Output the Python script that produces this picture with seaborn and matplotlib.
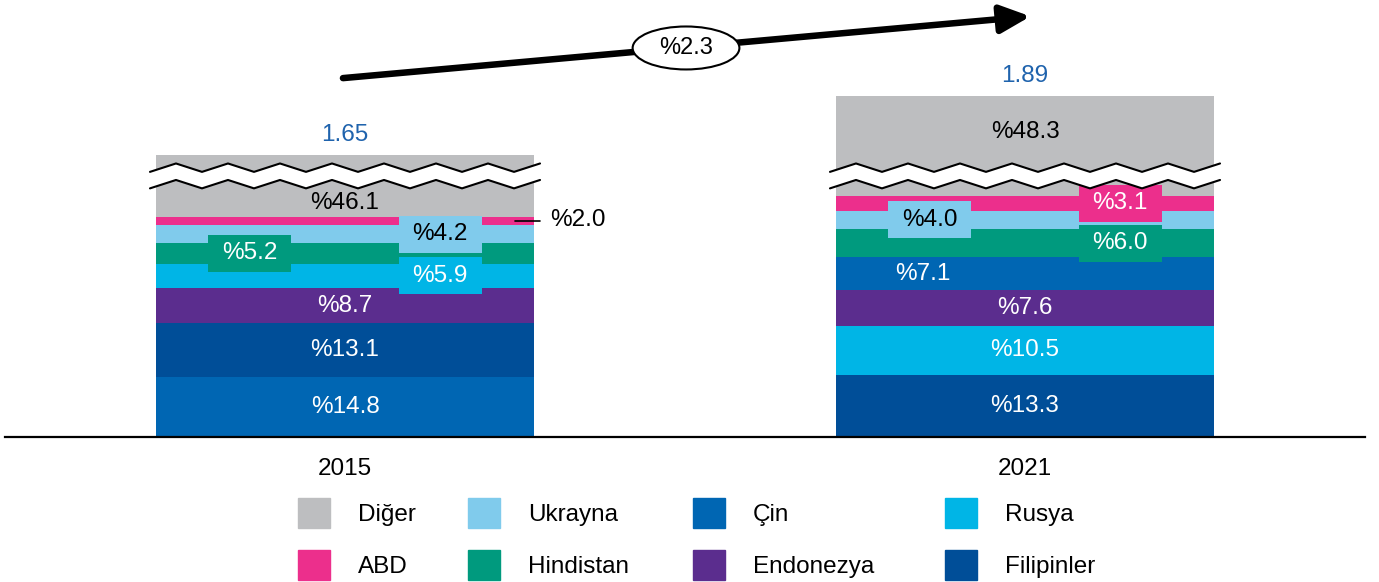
import numpy as np
import pandas as pd
import seaborn as sns
import matplotlib.pyplot as plt
from matplotlib.patches import Patch, Rectangle, Ellipse, Polygon

# values
years = ["2015", "2021"]
totals = [1.65, 1.89]
countries = ["Diğer", "ABD", "Ukrayna", "Hindistan", "Çin", "Endonezya", "Rusya", "Filipinler"]
shares_2015 = [46.1, 2.0, 4.2, 5.2, 14.8, 8.7, 5.9, 13.1]
shares_2021 = [48.3, 3.1, 4.0, 6.0, 7.1, 7.6, 10.5, 13.3]
growth_label = "%2.3"

colors = {
    "Diğer": "#bdbec0",
    "ABD": "#ec2f8c",
    "Ukrayna": "#80cbec",
    "Hindistan": "#009a7e",
    "Çin": "#0066b3",
    "Endonezya": "#5b2d8e",
    "Rusya": "#00b5e6",
    "Filipinler": "#004e98",
}

# where each share label goes: c = centre, l / r = boxed left / right,
# lt = left without a box, out = outside with a leader line
label_pos_2015 = ["c", "out", "r", "l", "c", "c", "r", "c"]
label_pos_2021 = ["c", "r", "l", "r", "lt", "c", "c", "c"]

CUT = 0.508       # amount of "Diğer" removed by the axis break
BREAK_Y = 1.057   # where the break sits on the (cut) y axis
BAR_W = 0.556
FS = 17.5

# build the stacked table, biggest share at the bottom, "Diğer" always on top
parts = []
for year, total, shares, pos in zip(years, totals, [shares_2015, shares_2021], [label_pos_2015, label_pos_2021]):
    d = pd.DataFrame({"country": countries, "share": shares, "pos": pos})
    d["year"] = year
    d["value"] = total * d["share"] / 100
    d["other"] = d["country"] == "Diğer"
    d = d.sort_values(["other", "share"], ascending=[True, False])
    d["height"] = d["value"] - np.where(d["other"], CUT, 0.0)
    d["bottom"] = d["height"].cumsum() - d["height"]
    parts.append(d)
df = pd.concat(parts, ignore_index=True)

sns.set_style("white")
plt.rcParams["font.family"] = ["Liberation Sans", "DejaVu Sans"]
plt.rcParams["text.color"] = "black"

fig = plt.figure(figsize=(13.79, 5.82), dpi=100)
ax = fig.add_axes([5 / 1379, 1 - 437 / 582, 1360 / 1379, 437 / 582])

for _, r in df.iterrows():
    sns.barplot(x=[r.year], y=[r.height], bottom=r.bottom, order=years,
                color=colors[r.country], saturation=1, width=BAR_W,
                errorbar=None, linewidth=0, ax=ax)

# share labels
box_w, box_h = 0.122, 0.150
gap = 0.0334
for _, r in df.iterrows():
    x0 = years.index(r.year)
    yc = r.bottom + r.height / 2
    if r.other:
        top = r.bottom + r.height
        low = (BREAK_Y - gap) - r.bottom
        high = top - (BREAK_Y + gap)
        yc = r.bottom + low / 2 - 0.01 if low > high else BREAK_Y + gap + high / 2
    txt_col = "black" if r.country in ("Diğer", "Ukrayna") else "white"
    label = f"%{r.share:.1f}"
    if r.pos == "out":
        ax.plot([x0 + 0.25, x0 + 0.287], [yc, yc], color="black", lw=1.2, zorder=4)
        ax.text(x0 + 0.302, yc + 0.005, label, ha="left", va="center", fontsize=FS, color="black")
        continue
    dx = {"c": 0.0, "l": -0.14, "lt": -0.15, "r": 0.14}[r.pos]
    if r.pos in ("l", "r"):
        ax.add_patch(Rectangle((x0 + dx - box_w / 2, yc - box_h / 2), box_w, box_h,
                               color=colors[r.country], lw=0, zorder=3))
    ax.text(x0 + dx, yc, label, ha="center", va="center", fontsize=FS, color=txt_col, zorder=4)

# totals above the bars
for x0, (year, total) in enumerate(zip(years, totals)):
    top = df.loc[df["year"] == year, "height"].sum()
    ax.annotate(f"{total:.2f}", (x0, top), xytext=(0, 10), textcoords="offset points",
                ha="center", va="baseline", fontsize=FS, color="#1f63ad")

# zigzag axis break on each bar
amp = 0.017
n = np.arange(16)
for x0 in range(len(years)):
    xs = x0 - 0.2868 + n * 0.03824
    ys = np.where(n % 2 == 0, -amp, amp)
    upper = BREAK_Y + gap + ys
    lower = BREAK_Y - gap + ys
    verts = np.vstack([np.column_stack([xs, upper]), np.column_stack([xs[::-1], lower[::-1]])])
    ax.add_patch(Polygon(verts, closed=True, facecolor="white", edgecolor="none", zorder=5))
    ax.plot(xs, upper, color="black", lw=1.5, zorder=6)
    ax.plot(xs, lower, color="black", lw=1.5, zorder=6)

# growth arrow with the CAGR in an ellipse
ax.annotate("", xy=(1.008, 1.703), xytext=(-0.003, 1.453),
            arrowprops=dict(arrowstyle="-|>,head_length=0.9,head_width=0.42", lw=4.7,
                            color="black", shrinkA=0, shrinkB=0, mutation_scale=20),
            zorder=7)
ax.add_patch(Ellipse((0.5015, 1.575), 0.157, 0.174, facecolor="white", edgecolor="black",
                     lw=1.5, zorder=8))
ax.text(0.5015, 1.575, growth_label, ha="center", va="center", fontsize=17, zorder=9,
        family=["Liberation Sans Narrow", "Liberation Sans"])

ax.set_xlim(-0.5, 1.5)
ax.set_ylim(0, 437 / 247)
ax.set_xticks([0, 1], years)
ax.set_yticks([])
ax.set_xlabel("")
ax.set_ylabel("")
ax.tick_params(axis="x", length=0, pad=15, labelsize=FS, labelcolor="black")
for side in ("left", "top", "right"):
    ax.spines[side].set_visible(False)
ax.spines["bottom"].set_linewidth(1.6)
ax.spines["bottom"].set_color("black")
ax.spines["bottom"].set_zorder(10)

# legend: one two-row column per anchor so the column spacing follows the original
legend_cols = [["Diğer", "ABD"], ["Ukrayna", "Hindistan"], ["Çin", "Endonezya"], ["Rusya", "Filipinler"]]
col_x = [298, 468, 693, 945]
for names, px in zip(legend_cols, col_x):
    handles = [Patch(color=colors[c], label=c) for c in names]
    fig.legend(handles=handles, loc="upper left", bbox_to_anchor=(px / 1379, 1 - 498 / 582),
               ncol=1, frameon=False, fontsize=FS, handlelength=1.32, handleheight=1.5,
               handletextpad=1.15, labelspacing=0.92, borderpad=0, borderaxespad=0,
               labelcolor="black")

fig.savefig("out.png", dpi=100)
